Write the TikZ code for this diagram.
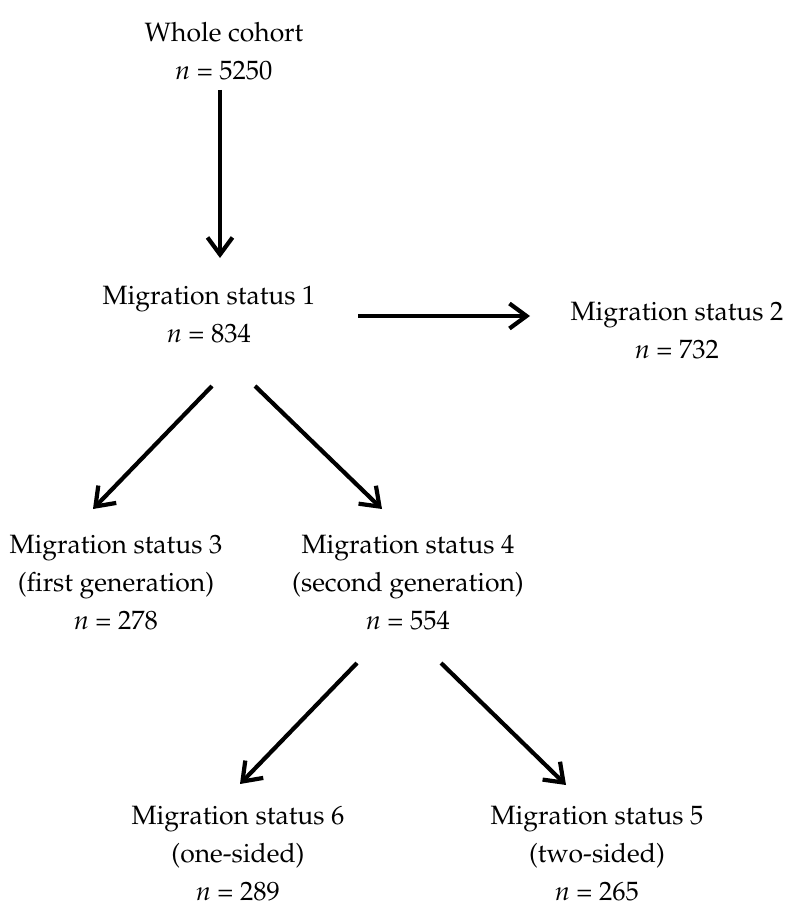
\documentclass[tikz,border=0pt]{standalone}
\usepackage[T1]{fontenc}
\usepackage{mathpazo}
\usetikzlibrary{arrows.meta}
\begin{document}
\begin{tikzpicture}[x=1pt,y=-1pt,
  lbl/.style={align=center,anchor=base,inner sep=0pt,font=\fontsize{26.5}{38}\selectfont},
  conn/.style={line width=4.2pt,-{Straight Barb[length=17pt,width=25pt,line width=4.2pt]}}]
\useasboundingbox (0,0) rectangle (788,912);
\node[lbl] (whole) at (224,80) {Whole cohort\\\textit{n} = 5250};
\node[lbl] (m1) at (209,342) {Migration status 1\\\textit{n} = 834};
\node[lbl] (m2) at (677,358) {Migration status 2\\\textit{n} = 732};
\node[lbl] (m3) at (116,629) {Migration status 3\\(first generation)\\\textit{n} = 278};
\node[lbl] (m4) at (408,629) {Migration status 4\\(second generation)\\\textit{n} = 554};
\node[lbl] (m6) at (238,900) {Migration status 6\\(one-sided)\\\textit{n} = 289};
\node[lbl] (m5) at (597,900) {Migration status 5\\(two-sided)\\\textit{n} = 265};
\coordinate (a1s) at (220,90);  \coordinate (a1e) at (220,258);
\coordinate (a2s) at (358,316); \coordinate (a2e) at (530,316);
\coordinate (a3s) at (212,386); \coordinate (a3e) at (93,509);
\coordinate (a4s) at (255,386); \coordinate (a4e) at (382,509);
\coordinate (a5s) at (357,663); \coordinate (a5e) at (240,784);
\coordinate (a6s) at (441,663); \coordinate (a6e) at (566,785);
\draw[conn] (a1s) -- (a1e);
\draw[conn] (a2s) -- (a2e);
\draw[conn] (a3s) -- (a3e);
\draw[conn] (a4s) -- (a4e);
\draw[conn] (a5s) -- (a5e);
\draw[conn] (a6s) -- (a6e);
\end{tikzpicture}
\end{document}
